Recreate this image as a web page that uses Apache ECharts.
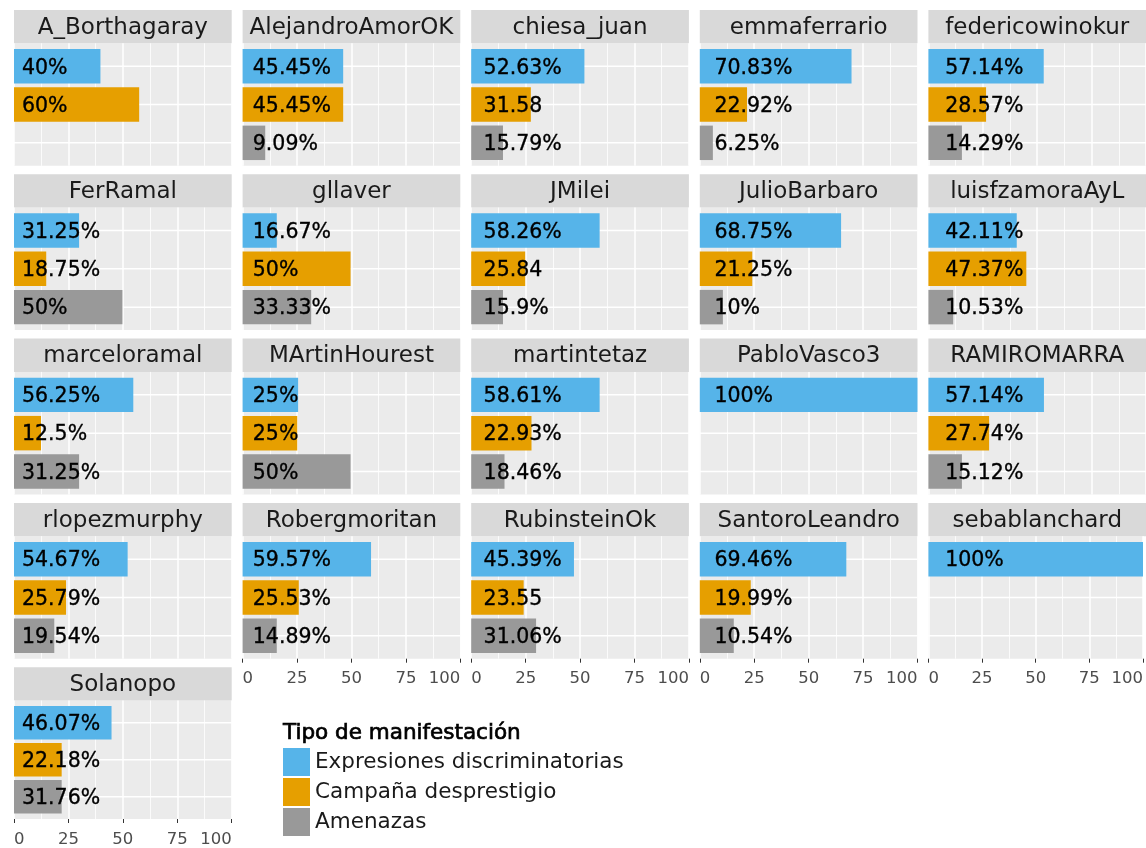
<!DOCTYPE html>
<html>
<head>
<meta charset="utf-8">
<script src="https://cdn.jsdelivr.net/npm/echarts@6/dist/echarts.min.js"></script>
<style>
  html, body { margin: 0; padding: 0; background: #fff; }
  #chart { width: 1146px; height: 848px; }
</style>
</head>
<body>
<div id="chart"></div>
<script>
// usuarios (un panel por usuario)
const usuarios = ['A_Borthagaray', 'AlejandroAmorOK', 'chiesa_juan', 'emmaferrario', 'federicowinokur',
  'FerRamal', 'gllaver', 'JMilei', 'JulioBarbaro', 'luisfzamoraAyL',
  'marceloramal', 'MArtinHourest', 'martintetaz', 'PabloVasco3', 'RAMIROMARRA',
  'rlopezmurphy', 'Robergmoritan', 'RubinsteinOk', 'SantoroLeandro', 'sebablanchard',
  'Solanopo'];

const tipos = ['Expresiones discriminatorias', 'Campaña desprestigio', 'Amenazas'];

// largo de las barras
const expresiones = [39.7, 46.2, 52.0, 69.7, 53.0, 29.9, 15.7, 59.0, 64.9, 40.6, 54.8, 25.5, 59.0, 100, 53.1, 52.2, 59.0, 47.2, 67.3, 100, 44.8];
const campana = [57.5, 46.2, 27.4, 21.7, 26.5, 14.8, 49.6, 24.8, 24.1, 45.0, 12.4, 25.1, 27.7, null, 27.9, 23.9, 25.8, 24.1, 23.4, null, 21.9];
const amenazas = [null, 10.4, 14.6, 6.0, 15.4, 49.8, 31.5, 14.6, 10.6, 11.4, 29.9, 49.6, 15.3, null, 15.4, 18.5, 15.7, 29.8, 15.6, null, 21.9];

// etiquetas tal como aparecen
const expresionesTxt = ['40%', '45.45%', '52.63%', '70.83%', '57.14%', '31.25%', '16.67%', '58.26%', '68.75%', '42.11%', '56.25%', '25%', '58.61%', '100%', '57.14%', '54.67%', '59.57%', '45.39%', '69.46%', '100%', '46.07%'];
const campanaTxt = ['60%', '45.45%', '31.58', '22.92%', '28.57%', '18.75%', '50%', '25.84', '21.25%', '47.37%', '12.5%', '25%', '22.93%', null, '27.74%', '25.79%', '25.53%', '23.55', '19.99%', null, '22.18%'];
const amenazasTxt = [null, '9.09%', '15.79%', '6.25%', '14.29%', '50%', '33.33%', '15.9%', '10%', '10.53%', '31.25%', '50%', '18.46%', null, '15.12%', '19.54%', '14.89%', '31.06%', '10.54%', null, '31.76%'];

const FONT = 'DejaVu Sans';
const COLORES = ['#56B4E9', '#E69F00', '#999999'];
const valores = [expresiones, campana, amenazas];
const textos = [expresionesTxt, campanaTxt, amenazasTxt];

const COLS = 5;
const PANEL_W = 217.7;
const STRIP_H = 33.3;
const PANEL_H = 122.5;
const colLeft = (c) => 14 + c * 228.6;
const rowTop = (r) => 10 + r * 164.3;

const chart = echarts.init(document.getElementById('chart'));

const grids = [];
const xAxes = [];
const yAxes = [];
const series = [];
const graphics = [];

const barRenderer = (label, color, col) => (params, api) => {
  const y = api.value(1);
  const p0 = api.coord([0, y]);
  const p1 = api.coord([api.value(0), y]);
  const h = api.size([0, 0.9])[1];
  return {
    type: 'group',
    children: [
      { type: 'rect', shape: { x: p0[0], y: p0[1] - h / 2, width: p1[0] - p0[0], height: h }, style: { fill: color } },
      {
        type: 'text',
        style: {
          text: label, x: p0[0] + 8 + col * 2.2, y: p0[1] + 2,
          fill: '#000', fontSize: 20.5, fontFamily: FONT, align: 'left', verticalAlign: 'middle',
          stroke: '#000', lineWidth: 0.35
        }
      }
    ]
  };
};

const gridLineRenderer = (params, api) => {
  const y = api.value(1);
  const a = api.coord([0, y]);
  const b = api.coord([100, y]);
  return { type: 'line', shape: { x1: a[0], y1: a[1], x2: b[0], y2: b[1] }, style: { stroke: '#fff', lineWidth: 1.5 } };
};

usuarios.forEach((u, i) => {
  const c = i % COLS;
  const r = Math.floor(i / COLS);
  const left = colLeft(c);
  const top = rowTop(r);
  const conEje = i + COLS >= usuarios.length;

  // strip
  graphics.push({
    type: 'rect', left: left, top: top, silent: true,
    shape: { width: PANEL_W, height: STRIP_H },
    style: { fill: '#d9d9d9' }
  });
  graphics.push({
    type: 'text', x: left + PANEL_W / 2, y: top + STRIP_H / 2 + 1, silent: true,
    style: { text: u, fill: '#1a1a1a', fontSize: 23, fontFamily: FONT, align: 'center', verticalAlign: 'middle' }
  });

  grids.push({
    left: left, top: top + STRIP_H, width: PANEL_W, height: PANEL_H,
    show: true, backgroundColor: '#ebebeb', borderWidth: 0
  });

  xAxes.push({
    type: 'value', gridIndex: i, min: 0, max: 100, interval: 25,
    axisLine: { show: false },
    axisTick: { show: conEje, length: 4, lineStyle: { color: '#333', width: 1 } },
    axisLabel: {
      show: conEje, fontSize: 16.5, color: '#4d4d4d', fontFamily: FONT, margin: 12,
      alignMinLabel: 'left', alignMaxLabel: 'right'
    },
    splitLine: { show: true, lineStyle: { color: '#fff', width: 1.5 } },
    minorTick: { show: false, splitNumber: 2 },
    minorSplitLine: { show: true, lineStyle: { color: '#fff', width: 0.8 } }
  });

  yAxes.push({
    type: 'value', gridIndex: i, min: 0.4, max: 3.6, inverse: true,
    axisLine: { show: false }, axisTick: { show: false }, axisLabel: { show: false },
    splitLine: { show: false }
  });

  series.push({
    type: 'custom', xAxisIndex: i, yAxisIndex: i, silent: true, z: 1,
    encode: { x: 0, y: 1 },
    data: [[0, 1], [0, 2], [0, 3]],
    renderItem: gridLineRenderer
  });

  tipos.forEach((t, k) => {
    const v = valores[k][i];
    if (v == null) return;
    series.push({
      name: t, type: 'custom', xAxisIndex: i, yAxisIndex: i, z: 2,
      itemStyle: { color: COLORES[k] },
      encode: { x: 0, y: 1 },
      data: [[v, k + 1]],
      renderItem: barRenderer(textos[k][i], COLORES[k], c)
    });
  });
});

graphics.push({
  type: 'text', x: 283, y: 733, silent: true,
  style: {
    text: 'Tipo de manifestación', fill: '#000', fontSize: 21.5, fontFamily: FONT, verticalAlign: 'middle',
    stroke: '#000', lineWidth: 0.7
  }
});

chart.setOption({
  backgroundColor: '#fff',
  animation: false,
  textStyle: { fontFamily: FONT },
  grid: grids,
  xAxis: xAxes,
  yAxis: yAxes,
  legend: {
    data: tipos, orient: 'vertical', left: 283, top: 748, padding: 0,
    icon: 'rect', itemWidth: 27, itemHeight: 28, itemGap: 2,
    selectedMode: false,
    textStyle: { fontSize: 21.5, color: '#1a1a1a', fontFamily: FONT }
  },
  graphic: graphics,
  series: series
});

window.addEventListener('resize', () => chart.resize());
</script>
</body>
</html>
